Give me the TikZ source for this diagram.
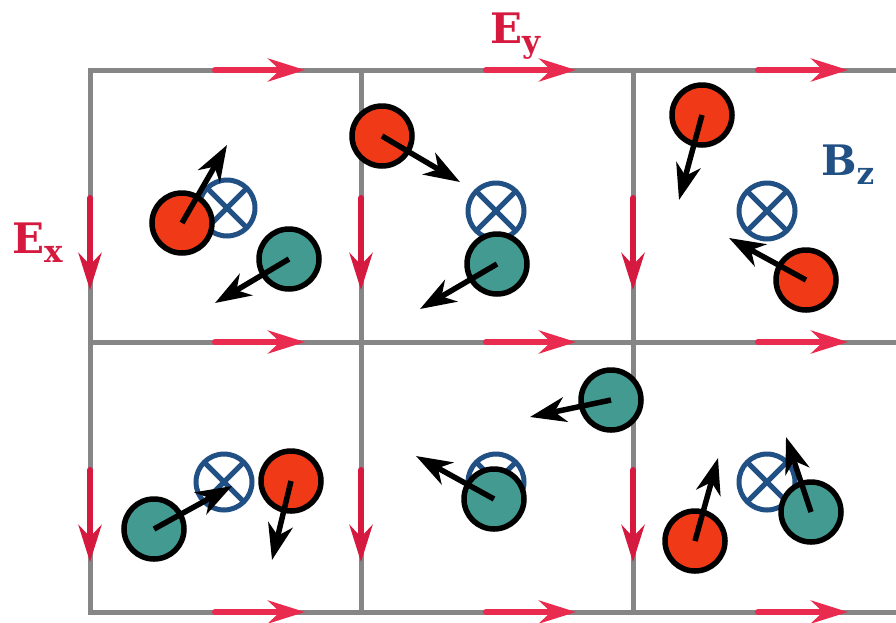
\documentclass[tikz,border=0pt]{standalone}
\usepackage{fontspec}
\newfontfamily\labelfont{DejaVu Serif}
\usepackage{tikz}
\usetikzlibrary{arrows.meta}
\usepackage{xcolor}
\definecolor{gridgray}{RGB}{134,134,134}
\definecolor{exred}{RGB}{214,25,62}
\definecolor{eyred}{RGB}{233,43,80}
\definecolor{bblue}{RGB}{33,80,133}
\definecolor{ionred}{RGB}{240,58,23}
\definecolor{ionteal}{RGB}{66,154,145}
\newcommand\fsub[1]{\raisebox{-9pt}{\fontsize{31}{31}\selectfont #1}}

\tikzset{
  gridline/.style={gridgray, line width=5pt},
  efield/.style={line width=6pt, line cap=round, -{Stealth[length=37pt,width=23pt,inset=12pt]}},
  vel/.style={black, line width=5.5pt, -{Stealth[length=36pt,width=25pt,inset=11pt]}},
  ion/.style={circle, draw=black, line width=5.5pt, minimum size=60pt, inner sep=0pt},
  posion/.style={ion, fill=ionred},
  negion/.style={ion, fill=ionteal},
  bcross/.style={circle, draw=bblue, fill=white, line width=5pt, minimum size=56pt, inner sep=0pt,
    path picture={\draw[bblue, line width=5pt]
      (path picture bounding box.north west) -- (path picture bounding box.south east)
      (path picture bounding box.south west) -- (path picture bounding box.north east);}},
  flabel/.style={inner sep=0pt, anchor=base west, font=\labelfont\bfseries\fontsize{42}{42}\selectfont},
}

\begin{document}
\begin{tikzpicture}[x=1pt, y=-1pt]
  \useasboundingbox (0,0) rectangle (896,622);
  % grid
  \foreach \y in {70,342,612} \draw[gridline] (88,\y) -- (896,\y);
  \foreach \x in {90,361,633} \draw[gridline] (\x,70) -- (\x,612);
  % E field along the links
  \foreach \x in {90,361,633} {
    \foreach \y in {70,342,612} \draw[efield, eyred] (\x+125,\y) -- (\x+215,\y);
    \foreach \y in {70,342} \draw[efield, exred] (\x,\y+128) -- (\x,\y+220);
  }
  \node[flabel, exred] (ex) at (12,253) {E\fsub{x}};
  \node[flabel, exred] (ey) at (490,43) {E\fsub{y}};
  \node[flabel, bblue] (bz) at (821,175) {B\fsub{z}};
  % B field into the page
  \node[bcross] (b1) at (227,208) {};
  \node[bcross] (b2) at (496,211) {};
  \node[bcross] (b3) at (767,211) {};
  \node[bcross] (b4) at (224,482) {};
  \node[bcross] (b5) at (496,482) {};
  \node[bcross] (b6) at (767,482) {};
  % particles
  \node[posion] (p1) at (182,223) {};
  \node[negion] (n1) at (289,259) {};
  \node[posion] (p2) at (382,136) {};
  \node[negion] (n2) at (497,264) {};
  \node[posion] (p3) at (702,115) {};
  \node[posion] (p4) at (806,280) {};
  \node[negion] (n3) at (154,529) {};
  \node[posion] (p5) at (291,481) {};
  \node[negion] (n4) at (611,400) {};
  \node[negion] (n5) at (494,499) {};
  \node[posion] (p6) at (695,541) {};
  \node[negion] (n6) at (811,512) {};
  % velocities
  \coordinate (vp1) at (227,145);
  \coordinate (vn1) at (215,303);
  \coordinate (vp2) at (460,182);
  \coordinate (vn2) at (420,309);
  \coordinate (vp3) at (679,200);
  \coordinate (vp4) at (729,238);
  \coordinate (vn3) at (232,486);
  \coordinate (vp5) at (272,560);
  \coordinate (vn4) at (530,417);
  \coordinate (vn5) at (416,456);
  \coordinate (vp6) at (718,458);
  \coordinate (vn6) at (786,437);
  \foreach \p in {p1,n1,p2,n2,p3,p4,n3,p5,n4,n5,p6,n6}
    \draw[vel] (\p.center) -- (v\p);
\end{tikzpicture}
\end{document}
